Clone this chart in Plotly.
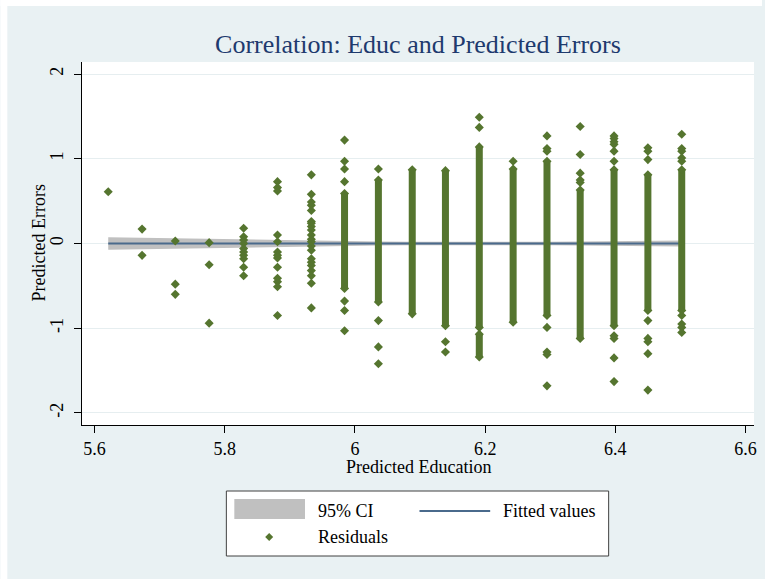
import plotly.graph_objects as go

# ---------------- data ----------------
col_x = [5.621, 5.673, 5.724, 5.776, 5.829, 5.881, 5.933, 5.984, 6.036,
         6.088, 6.139, 6.191, 6.243, 6.295, 6.346, 6.398, 6.450, 6.502]

# individually visible residuals per column
resid_sparse = [
    [0.61],
    [0.17, -0.14],
    [0.03, -0.48, -0.60],
    [0.01, -0.25, -0.94],
    [0.18, 0.08, 0.04, 0.00, -0.06, -0.10, -0.14, -0.18, -0.28, -0.38],
    [0.73, 0.66, 0.62, 0.10, 0.02, -0.10, -0.14, -0.17, -0.28, -0.41, -0.45, -0.51, -0.85],
    [0.81, 0.58, 0.49, 0.45, 0.39, 0.26, 0.24, 0.20, 0.16, 0.10, 0.05, 0.02,
     -0.03, -0.08, -0.18, -0.22, -0.26, -0.32, -0.38, -0.47, -0.76],
    [1.22, 0.97, 0.88, 0.73, -0.68, -0.79, -1.03],
    [0.88, -0.91, -1.22, -1.42],
    [],
    [-1.16, -1.28],
    [1.49, 1.37],
    [0.97],
    [1.27, 1.12, 1.09, -0.99, -1.28, -1.31, -1.68],
    [1.38, 1.05, 0.83, 0.75, 0.72],
    [1.27, 1.24, 1.20, 1.17, 1.09, 0.97, -1.09, -1.12, -1.35, -1.63],
    [1.13, 1.09, 0.99, -0.91, -1.12, -1.16, -1.30, -1.73],
    [1.29, 1.12, 1.09, 1.01, 0.97, -0.85, -0.95, -0.99, -1.05],
]

# columns where residuals are packed into a solid run: (x, low, high)
dense_x  = [5.984, 6.036, 6.088, 6.139, 6.191, 6.191, 6.243, 6.295, 6.346, 6.398, 6.450, 6.502]
dense_lo = [-0.53, -0.69, -0.83, -0.97, -0.99, -1.34, -0.93, -0.85, -1.12, -0.97, -0.79, -0.79]
dense_hi = [0.59, 0.75, 0.87, 0.86, 1.14, -1.07, 0.88, 0.97, 0.63, 0.87, 0.81, 0.87]

# fitted values and 95% CI
fit_y = [0.0, 0.0, 0.0, 0.0, 0.0, 0.0, 0.0, 0.0, 0.0,
         0.0, 0.0, 0.0, 0.0, 0.0, 0.0, 0.0, 0.0, 0.0]
ci_hi = [0.075, 0.068, 0.060, 0.053, 0.046, 0.040, 0.034, 0.029, 0.025,
         0.022, 0.020, 0.019, 0.020, 0.022, 0.025, 0.028, 0.032, 0.036]
ci_lo = [-0.075, -0.068, -0.060, -0.053, -0.046, -0.040, -0.034, -0.029, -0.025,
         -0.022, -0.020, -0.019, -0.020, -0.022, -0.025, -0.028, -0.032, -0.036]

x_ticks = [5.6, 5.8, 6.0, 6.2, 6.4, 6.6]
x_tick_text = ["5.6", "5.8", "6", "6.2", "6.4", "6.6"]
y_ticks = [-2, -1, 0, 1, 2]
y_tick_text = ["-2", "-1", "0", "1", "2"]

title_text = "Correlation: Educ and Predicted Errors"
x_title = "Predicted Education"
y_title = "Predicted Errors"
legend_labels = ["95% CI", "Fitted values", "Residuals"]

# ---------------- style ----------------
GREEN = "#55752F"
NAVY_LINE = "#4A6A8C"
CI_GREY = "#C0C0C0"
BG = "#E9F1F3"
FONT = "Liberation Serif"

W, H = 765, 579
ML, MR, MT, MB = 82, 8, 62, 154
PW, PH = W - ML - MR, H - MT - MB


def px(xp):
    return (xp - ML) / PW


def py(yp):
    return (H - MB - yp) / PH


fig = go.Figure()

# CI band
fig.add_trace(go.Scatter(x=col_x, y=ci_lo, mode="lines", line=dict(width=0, color=CI_GREY),
                         hoverinfo="skip", showlegend=False))
fig.add_trace(go.Scatter(x=col_x, y=ci_hi, mode="lines", line=dict(width=0, color=CI_GREY),
                         fill="tonexty", fillcolor=CI_GREY, name=legend_labels[0], showlegend=False))
# fitted line
fig.add_trace(go.Scatter(x=col_x, y=fit_y, mode="lines", line=dict(width=2, color=NAVY_LINE),
                         name=legend_labels[1], showlegend=False))

# dense runs of residuals
dx, dy = [], []
for x, lo, hi in zip(dense_x, dense_lo, dense_hi):
    dx += [x, x, None]
    dy += [lo, hi, None]
fig.add_trace(go.Scatter(x=dx, y=dy, mode="lines", line=dict(width=7, color=GREEN),
                         hoverinfo="skip", showlegend=False))

# individual residual markers (including ends of the dense runs)
sx, sy = [], []
for x, vals in zip(col_x, resid_sparse):
    for v in vals:
        sx.append(x)
        sy.append(v)
for x, lo, hi in zip(dense_x, dense_lo, dense_hi):
    sx += [x, x]
    sy += [lo, hi]
fig.add_trace(go.Scatter(x=sx, y=sy, mode="markers",
                         marker=dict(symbol="diamond", size=7, color=GREEN, line=dict(width=0)),
                         name=legend_labels[2], showlegend=False))

# ---------------- layout ----------------
shapes = [
    # white strips outside the Stata graph region (document crop)
    dict(type="rect", xref="paper", yref="paper", x0=px(0), x1=px(7), y0=py(H), y1=py(0),
         fillcolor="white", line=dict(width=0), layer="below"),
    dict(type="rect", xref="paper", yref="paper", x0=px(0), x1=px(W), y0=py(6), y1=py(0),
         fillcolor="white", line=dict(width=0), layer="below"),
    # legend box
    dict(type="rect", xref="paper", yref="paper", x0=px(227), x1=px(611), y0=py(556), y1=py(491),
         fillcolor="white", line=dict(width=1, color="#404040")),
    dict(type="rect", xref="paper", yref="paper", x0=px(235), x1=px(306), y0=py(519), y1=py(499),
         fillcolor=CI_GREY, line=dict(width=0)),
    dict(type="line", xref="paper", yref="paper", x0=px(421), x1=px(492), y0=py(511), y1=py(511),
         line=dict(width=2, color=NAVY_LINE)),
    dict(type="path", xref="paper", yref="paper", xsizemode="pixel", ysizemode="pixel",
         xanchor=px(270), yanchor=py(537), path="M 0 4 L 4 0 L 0 -4 L -4 0 Z",
         fillcolor=GREEN, line=dict(width=0)),
]

annotations = [
    dict(text=x_title, xref="paper", yref="paper", x=0.5, y=0, yanchor="middle",
         yshift=-(467 - (H - MB)), showarrow=False, font=dict(family=FONT, size=18, color="black")),
    dict(text=y_title, xref="paper", yref="paper", x=0, y=0.5, xanchor="center",
         xshift=-(ML - 38), textangle=-90, showarrow=False,
         font=dict(family=FONT, size=18, color="black")),
    dict(text=legend_labels[0], xref="paper", yref="paper", x=px(317), y=py(511),
         xanchor="left", yanchor="middle", showarrow=False,
         font=dict(family=FONT, size=18, color="black")),
    dict(text=legend_labels[1], xref="paper", yref="paper", x=px(503), y=py(511),
         xanchor="left", yanchor="middle", showarrow=False,
         font=dict(family=FONT, size=18, color="black")),
    dict(text=legend_labels[2], xref="paper", yref="paper", x=px(317), y=py(537),
         xanchor="left", yanchor="middle", showarrow=False,
         font=dict(family=FONT, size=18, color="black")),
]

fig.update_layout(
    width=W, height=H,
    margin=dict(l=ML, r=MR, t=MT, b=MB, pad=0),
    paper_bgcolor=BG,
    plot_bgcolor="white",
    showlegend=False,
    title=dict(text=title_text, x=0.5, xref="paper", y=1 - 44 / H, yref="container",
               xanchor="center", yanchor="middle",
               font=dict(family=FONT, size=26, color="#1E3A6E")),
    shapes=shapes,
    annotations=annotations,
    font=dict(family=FONT, size=18, color="black"),
)

fig.update_xaxes(range=[5.5807, 6.613], tickvals=x_ticks, ticktext=x_tick_text,
                 showgrid=False, zeroline=False, showline=True, linecolor="black", linewidth=1,
                 ticks="outside", ticklen=7, tickcolor="black", tickwidth=1,
                 tickfont=dict(family=FONT, size=18, color="black"))
fig.update_yaxes(range=[-2.142, 2.142], tickvals=y_ticks, ticktext=y_tick_text,
                 showgrid=True, gridcolor="#E6EEF0", gridwidth=1,
                 zeroline=False, showline=True, linecolor="black", linewidth=1,
                 ticks="outside", ticklen=7, tickcolor="black", tickwidth=1, tickangle=-90,
                 ticklabelstandoff=4,
                 tickfont=dict(family=FONT, size=18, color="black"))

fig.write_html("out.html",
               config={"displayModeBar": False},
               post_script="document.body.style.margin='0';document.body.style.padding='0';"
                           "document.body.style.overflow='hidden';")
